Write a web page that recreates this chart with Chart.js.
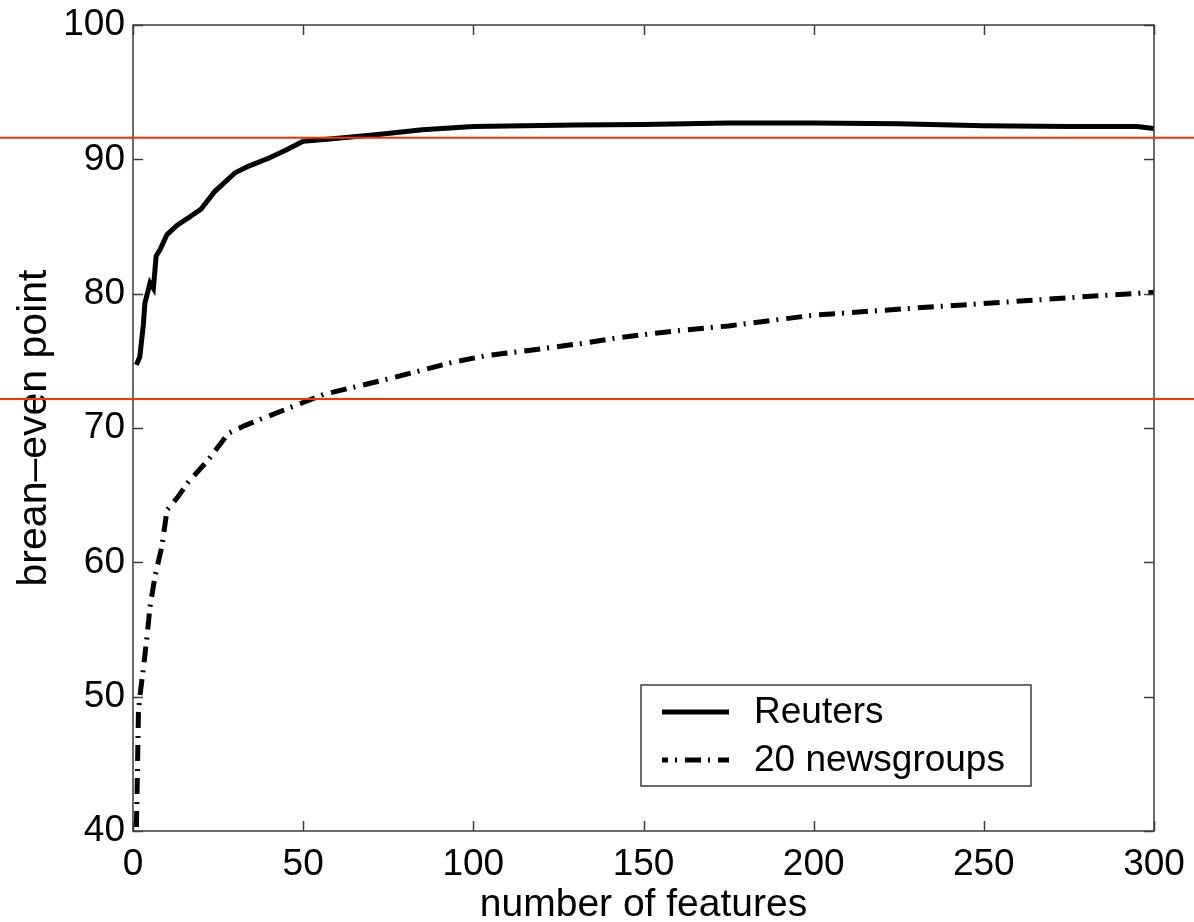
<!DOCTYPE html>
<html>
<head>
<meta charset="utf-8">
<script src="https://cdn.jsdelivr.net/npm/chart.js@4/dist/chart.umd.min.js"></script>
<style>
  html, body { margin: 0; padding: 0; background: #fff; }
  #wrap { width: 1194px; height: 922px; }
</style>
</head>
<body>
<div id="wrap"><canvas id="chart"></canvas></div>
<script>
// data
const reutersX = [1, 2, 3, 3.5, 5, 6, 6.8, 8, 10, 13, 16, 20, 24, 30, 34, 40, 45, 50, 57, 72, 85, 100, 130, 150, 175, 200, 225, 250, 275, 295, 300];
const reutersY = [74.7, 75.3, 77.6, 79.3, 80.8, 80.4, 82.8, 83.3, 84.4, 85.1, 85.6, 86.3, 87.6, 89.0, 89.5, 90.1, 90.7, 91.35, 91.5, 91.85, 92.2, 92.45, 92.55, 92.6, 92.7, 92.7, 92.65, 92.5, 92.45, 92.45, 92.3];

const newsX = [1, 1.2, 1.6, 2, 3, 4, 5, 6.5, 8.5, 10, 13, 16, 22, 28, 33, 37, 47, 56, 75, 94, 104, 114, 132, 142, 160, 175, 200, 228, 258, 287, 300];
const newsY = [40.3, 43, 48.8, 50.0, 52.0, 54.2, 56.7, 59.0, 61.2, 63.9, 64.8, 65.9, 67.6, 69.6, 70.2, 70.6, 71.6, 72.5, 73.65, 74.9, 75.4, 75.7, 76.3, 76.7, 77.25, 77.6, 78.4, 78.9, 79.4, 79.9, 80.1];

const seriesNames = ['Reuters', '20 newsgroups'];
const xTicks = [0, 50, 100, 150, 200, 250, 300];
const yTicks = [40, 50, 60, 70, 80, 90, 100];
const refLines = [91.6, 72.15];   // red horizontal lines

const FONT = 'Liberation Sans, Arial, Helvetica, sans-serif';

function toPoints(xs, ys) {
    return xs.map((x, i) => ({ x: x, y: ys[i] }));
}

// box, inward ticks, red lines and legend, MATLAB style
const matlabFrame = {
    id: 'matlabFrame',
    afterDatasetsDraw(chart) {
        const ctx = chart.ctx;
        const a = chart.chartArea;
        const xs = chart.scales.x, ys = chart.scales.y;
        ctx.save();

        // axes box
        ctx.strokeStyle = '#3c3c3c';
        ctx.lineWidth = 1.5;
        ctx.strokeRect(a.left, a.top, a.right - a.left, a.bottom - a.top);

        // inward ticks
        const tl = 10;
        ctx.beginPath();
        xTicks.forEach(v => {
            const px = Math.round(xs.getPixelForValue(v)) + 0.5;
            ctx.moveTo(px, a.bottom); ctx.lineTo(px, a.bottom - tl);
            ctx.moveTo(px, a.top); ctx.lineTo(px, a.top + tl);
        });
        yTicks.forEach(v => {
            const py = Math.round(ys.getPixelForValue(v)) + 0.5;
            ctx.moveTo(a.left, py); ctx.lineTo(a.left + tl, py);
            ctx.moveTo(a.right, py); ctx.lineTo(a.right - tl, py);
        });
        ctx.stroke();

        // red reference lines across the whole picture
        ctx.strokeStyle = '#ff3300';
        ctx.lineWidth = 2;
        refLines.forEach(v => {
            const py = ys.getPixelForValue(v);
            ctx.beginPath();
            ctx.moveTo(0, py);
            ctx.lineTo(chart.width, py);
            ctx.stroke();
        });

        // legend box
        const bw = 390, bh = 101;
        const bx = a.right - 123 - bw, by = a.bottom - 45 - bh;
        ctx.fillStyle = '#fff';
        ctx.fillRect(bx, by, bw, bh);
        ctx.strokeStyle = '#3c3c3c';
        ctx.lineWidth = 1.5;
        ctx.strokeRect(bx, by, bw, bh);

        chart.data.datasets.forEach((ds, i) => {
            const cy = by + 27 + i * 48;
            ctx.strokeStyle = ds.borderColor;
            ctx.lineWidth = ds.borderWidth;
            ctx.lineCap = 'butt';
            ctx.setLineDash(ds.borderDash || []);
            ctx.lineDashOffset = i === 1 ? 10 : 0;
            ctx.beginPath();
            ctx.moveTo(bx + 21, cy);
            ctx.lineTo(bx + 88, cy);
            ctx.stroke();
            ctx.setLineDash([]);
            ctx.fillStyle = '#000';
            ctx.font = '37px ' + FONT;
            ctx.textBaseline = 'middle';
            ctx.textAlign = 'left';
            ctx.fillText(ds.label, bx + 113, cy + 1);
        });
        ctx.restore();
    }
};

new Chart(document.getElementById('chart').getContext('2d'), {
    type: 'line',
    data: {
        datasets: [
            {
                label: seriesNames[0],
                data: toPoints(reutersX, reutersY),
                borderColor: '#000',
                borderWidth: 5,
                pointRadius: 0,
                tension: 0,
                fill: false
            },
            {
                label: seriesNames[1],
                data: toPoints(newsX, newsY),
                borderColor: '#000',
                borderWidth: 5,
                borderDash: [16, 7, 2, 8],
                borderCapStyle: 'butt',
                pointRadius: 0,
                tension: 0,
                fill: false
            }
        ]
    },
    options: {
        responsive: true,
        maintainAspectRatio: false,
        animation: false,
        devicePixelRatio: 1,
        layout: { padding: { left: 0, right: 40, top: 25, bottom: 0 } },
        plugins: {
            legend: { display: false },
            tooltip: { enabled: false }
        },
        scales: {
            x: {
                type: 'linear',
                min: 0,
                max: 300,
                afterBuildTicks: s => { s.ticks = xTicks.map(v => ({ value: v })); },
                afterFit: s => { s.height = 91; s.paddingLeft = 0; s.paddingRight = 0; },
                grid: { display: false, drawTicks: false },
                border: { display: false },
                ticks: {
                    color: '#000',
                    padding: 12,
                    maxRotation: 0,
                    font: { family: FONT, size: 37 }
                },
                title: {
                    display: true,
                    text: 'number of features',
                    color: '#000',
                    padding: { top: 0, bottom: 2 },
                    font: { family: FONT, size: 39, lineHeight: 0.75 }
                }
            },
            y: {
                min: 40,
                max: 100,
                afterBuildTicks: s => { s.ticks = yTicks.map(v => ({ value: v })); },
                afterFit: s => { s.width = 133; s.paddingTop = 0; s.paddingBottom = 0; },
                grid: { display: false, drawTicks: false },
                border: { display: false },
                ticks: {
                    color: '#000',
                    padding: 8,
                    font: { family: FONT, size: 37 }
                },
                title: {
                    display: true,
                    text: 'brean\u2013even point',
                    color: '#000',
                    padding: { top: 10, bottom: 0 },
                    font: { family: FONT, size: 41 }
                }
            }
        }
    },
    plugins: [matlabFrame]
});
</script>
</body>
</html>
